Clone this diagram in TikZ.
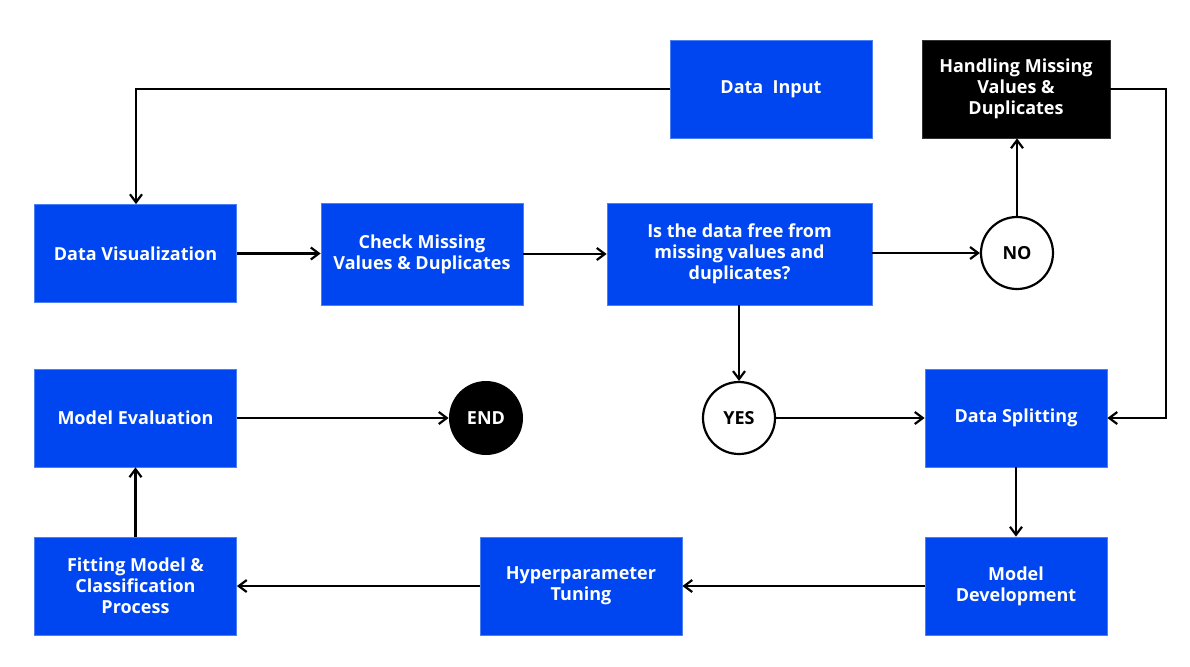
\documentclass[tikz,border=0pt]{standalone}
\usepackage{fontspec}
\setmainfont{Open Sans}
\usetikzlibrary{arrows.meta}
\definecolor{boxblue}{RGB}{0,70,240}
\tikzset{
  px/.style={x=0.5pt,y=-0.5pt},
  labfont/.style={font=\bfseries\fontsize{9}{10.6}\selectfont},
  bluebox/.style={fill=boxblue,draw=boxblue!70!white,line width=0.4pt,minimum width=101pt,minimum height=49pt,text=white,labfont,align=center,inner sep=0pt},
  blackbox/.style={bluebox,fill=black,draw=black!80},
  yesno/.style={circle,draw=black,line width=1.1pt,fill=white,minimum size=36pt,inner sep=0pt,labfont},
  endc/.style={circle,fill=black,minimum size=37pt,inner sep=0pt,text=white,labfont},
  conn/.style={line width=1.1pt,-{Straight Barb[length=4pt,width=6pt,line width=1.1pt]}}
}
\begin{document}
\begin{tikzpicture}[px]
\useasboundingbox (0,0) rectangle (1190,666);
\node[bluebox,minimum width=101pt] (input) at (771,89) {Data~~Input};
\node[blackbox,minimum width=94pt] (handle) at (1016,89) {Handling Missing\\Values \&\\Duplicates};
\node[bluebox] (vis) at (135.5,253.5) {Data Visualization};
\node[bluebox,minimum height=51pt] (check) at (422,254) {Check Missing\\Values \& Duplicates};
\node[bluebox,minimum width=132.5pt,minimum height=51pt] (free) at (739.5,254) {Is the data free from\\missing values and\\duplicates?};
\node[yesno] (no) at (1017,253) {NO};
\node[bluebox] (eval) at (135.5,418) {Model Evaluation};
\node[endc] (end) at (486,418) {END};
\node[yesno] (yes) at (739,418) {YES};
\node[bluebox,minimum width=91pt] (split) at (1016,418) {Data Splitting};
\node[bluebox] (fit) at (135.5,586) {Fitting Model \&\\Classification\\Process};
\node[bluebox] (hyper) at (581,586) {Hyperparameter\\Tuning};
\node[bluebox,minimum width=91pt] (dev) at (1016,586) {Model\\Development};
\coordinate (tl) at (136,89);
\coordinate (tr) at (1166,89);
\draw[conn] (input.west) -- (tl) -- (vis.north -| tl);
\draw[conn] (vis.east) -- (vis.east -| check.west);
\draw[conn] (check.east) -- (check.east -| free.west);
\draw[conn] (free.east |- no) -- (no.west);
\draw[conn] (no.north) -- (handle.south -| no);
\draw[conn] (handle.east) -- (tr) -- (tr |- split.east) -- (split.east);
\draw[conn] (free.south -| yes) -- (yes.north);
\draw[conn] (yes.east) -- (split.west);
\draw[conn] (split.south) -- (dev.north);
\draw[conn] (dev.west) -- (hyper.east);
\draw[conn] (hyper.west) -- (fit.east);
\draw[conn] (fit.north) -- (eval.south);
\draw[conn] (eval.east) -- (end.west);
\end{tikzpicture}
\end{document}
